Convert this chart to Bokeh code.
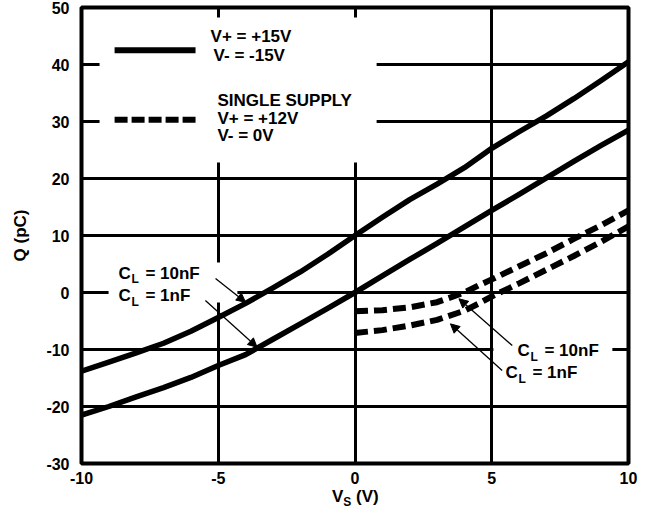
from bokeh.plotting import figure
from bokeh.layouts import column
from bokeh.models import Range1d, FixedTicker, Label, Arrow, NormalHead, Div
from bokeh.embed import file_html
from bokeh.resources import INLINE

# Charge injection Q (pC) versus source voltage V_S (V)

# split supply, V+ = +15V / V- = -15V
vs_split = [-10, -9, -8, -7, -6, -5, -4, -3, -2, -1, 0, 1, 2, 3, 4, 5, 6, 7, 8, 9, 10]
q_split_10nf = [-13.8, -12.2, -10.6, -8.9, -6.8, -4.4, -1.9, 0.8, 3.6, 6.7, 10.0,
                13.2, 16.3, 19.0, 21.9, 25.3, 28.2, 31.0, 34.0, 37.2, 40.5]
q_split_1nf = [-21.5, -20.0, -18.3, -16.7, -14.9, -12.8, -10.9, -8.2, -5.5, -2.8, 0.0,
               2.9, 5.8, 8.6, 11.5, 14.4, 17.2, 20.1, 23.0, 25.8, 28.5]

# single supply, V+ = +12V / V- = 0V
vs_single = [0, 1, 2, 3, 4, 4.5, 5, 6, 7, 8, 9, 10]
q_single_10nf = [-3.3, -3.1, -2.6, -1.7, 0.0, 1.2, 2.3, 4.6, 6.9, 9.4, 11.8, 14.4]
q_single_1nf = [-7.1, -6.6, -5.8, -4.8, -3.2, -2.0, -0.7, 1.6, 4.0, 6.4, 8.9, 11.6]

x_ticks = [-10, -5, 0, 5, 10]
x_tick_labels = ["-10", "-5", "0", "5", "10"]
y_ticks = [-30, -20, -10, 0, 10, 20, 30, 40, 50]
y_tick_labels = ["-30", "-20", "-10", "0", "10", "20", "30", "40", "50"]

FONT = "Liberation Sans"

p = figure(width=646, height=490, output_backend="svg", toolbar_location=None,
           x_range=Range1d(-10, 10), y_range=Range1d(-30, 50),
           min_border_left=81, min_border_right=18, min_border_top=7, min_border_bottom=27,
           margin=0)
p.background_fill_color = "white"
p.border_fill_color = "white"
p.outline_line_color = "black"
p.outline_line_width = 4

for ax, ticks, labels in ((p.xaxis[0], x_ticks, x_tick_labels), (p.yaxis[0], y_ticks, y_tick_labels)):
    ax.ticker = FixedTicker(ticks=ticks)
    ax.major_label_overrides = {t: s for t, s in zip(ticks, labels)}
    ax.major_tick_out = 0
    ax.major_tick_in = 0
    ax.minor_tick_out = 0
    ax.minor_tick_in = 0
    ax.axis_line_color = None
    ax.major_label_text_font = FONT
    ax.major_label_text_font_style = "bold"
    ax.major_label_text_font_size = "16px"
    ax.major_label_text_color = "black"

p.xaxis[0].major_label_standoff = 8
p.yaxis[0].major_label_standoff = 12
p.yaxis[0].axis_label = "Q (pC)"
p.yaxis[0].axis_label_text_font = FONT
p.yaxis[0].axis_label_text_font_style = "bold"
p.yaxis[0].axis_label_text_font_size = "17px"
p.yaxis[0].axis_label_text_color = "black"
p.yaxis[0].axis_label_standoff = 13

p.xgrid.ticker = FixedTicker(ticks=[-5, 0, 5])
p.ygrid.ticker = FixedTicker(ticks=[-20, -10, 0, 10, 20, 30, 40])
for g in (p.xgrid[0], p.ygrid[0]):
    g.grid_line_color = "black"
    g.grid_line_width = 3
    g.grid_line_alpha = 1.0

# white panels behind the legend block and the callout texts
p.quad(left=[-9.34, -9.01, 5.06], right=[0.79, -4.30, 9.41],
       bottom=[22.8, -1.75, -12.28], top=[48.25, 5.26, -8.42],
       fill_color="white", line_color=None)

# curves
p.line(vs_split, q_split_10nf, line_color="black", line_width=5.5, line_join="round")
p.line(vs_split, q_split_1nf, line_color="black", line_width=5.5, line_join="round")
p.line(vs_single, q_single_10nf, line_color="black", line_width=6, line_dash="13 6")
p.line(vs_single, q_single_1nf, line_color="black", line_width=6, line_dash="13 6")

# legend samples
p.line([-8.79, -5.83], [42.5, 42.5], line_color="black", line_width=6)
p.line([-8.79, -5.83], [30.3, 30.3], line_color="black", line_width=6, line_dash="13 4")


def add_text(x, y, text, size="17px", x_offset=0, y_offset=0):
    p.add_layout(Label(x=x, y=y, text=text, x_offset=x_offset, y_offset=y_offset,
                       text_font=FONT, text_font_style="bold", text_font_size=size,
                       text_baseline="middle", text_align="left", text_color="black"))


def add_cl(x, y, rest):
    add_text(x, y, "C")
    add_text(x, y, "L", size="12px", x_offset=13, y_offset=-6)
    add_text(x, y, rest, x_offset=27)


add_text(-5.28, 44.9, "V+ = +15V")
add_text(-5.17, 41.5, "V- = -15V")
add_text(-5.03, 33.7, "SINGLE SUPPLY")
add_text(-5.03, 30.5, "V+ = +12V")
add_text(-5.03, 27.5, "V- = 0V")

add_cl(-8.65, 3.42, "= 10nF")
add_cl(-8.65, -0.53, "= 1nF")
add_cl(5.94, -10.26, "= 10nF")
add_cl(5.50, -14.10, "= 1nF")

# callout arrows
for xs, ys, xe, ye in ((-5.10, 2.46, -4.00, -1.7),
                       (-5.47, -1.4, -3.58, -9.6),
                       (5.75, -9.3, 3.80, -1.1),
                       (5.38, -13.7, 3.49, -5.5)):
    p.add_layout(Arrow(end=NormalHead(size=9, fill_color="black", line_color="black", line_width=1),
                       x_start=xs, y_start=ys, x_end=xe, y_end=ye,
                       line_color="black", line_width=1.3))

# x axis title with a subscript, set under the plot
xtitle = Div(
    text=('<div style="margin-left:332px; font-family:\'Liberation Sans\'; font-weight:bold; '
          'font-size:17px; line-height:14px; white-space:nowrap; color:black">'
          'V<span style="font-size:12px; position:relative; top:4px">S</span> (V)</div>'),
    width=646, height=25, margin=0)

layout = column(p, xtitle, spacing=0)
open("out.html", "w").write(file_html(layout, INLINE))
